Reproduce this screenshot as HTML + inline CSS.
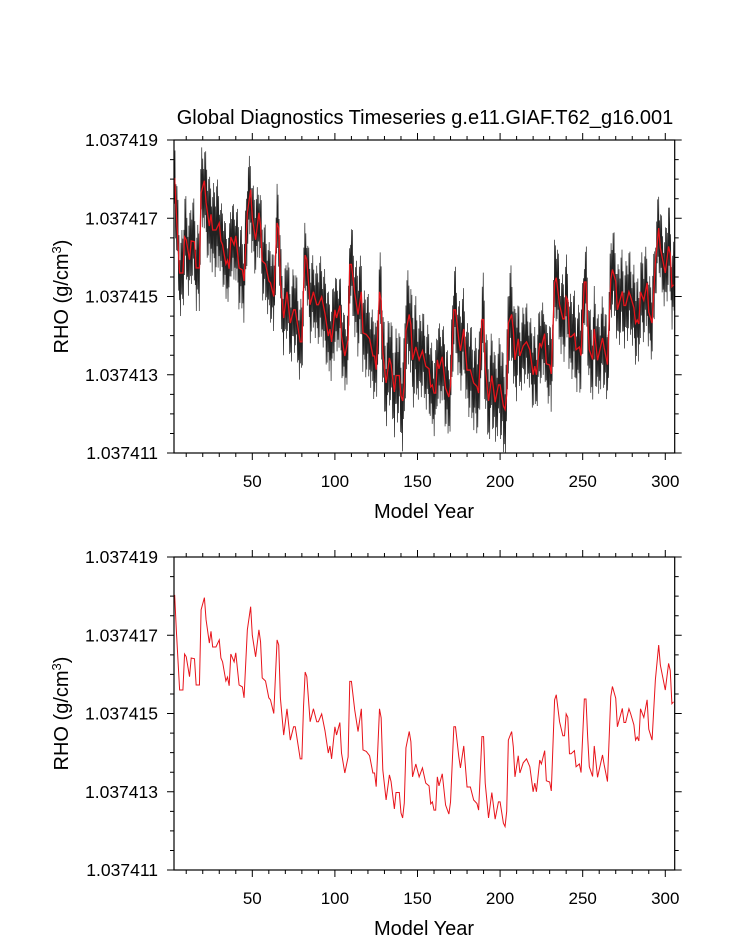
<!DOCTYPE html>
<html><head><meta charset="utf-8">
<style>
html,body{margin:0;padding:0;background:#fff;}
svg{display:block;font-family:"Liberation Sans",Arial,sans-serif;}
</style></head>
<body>
<svg id="chart" width="733" height="945" viewBox="0 0 733 945" xmlns="http://www.w3.org/2000/svg">
<text x="425" y="124" font-size="20" text-anchor="middle">Global Diagnostics Timeseries g.e11.GIAF.T62_g16.001</text>
<g id="p1"></g>
<g id="p2"></g>
</svg>
<script>
// x-axis categories (model years) for annual mean series
const years = [3,4,6,8,9,10,12,13,15,16,18,19,21,22,24,25,26,28,30,31,32,34,35,36,37,39,40,42,44,45,47,49,50,52,54,55,56,58,60,61,63,65,66,67,69,71,73,75,76,79,80,81,82,83,85,87,89,90,92,94,96,97,98,100,101,103,104,106,108,109,110,112,114,116,117,119,121,123,124,125,127,128,129,131,133,134,136,137,139,140,141,142,143,145,146,147,149,151,153,155,157,158,159,160,161,162,163,165,167,169,170,172,173,175,176,178,180,182,184,186,187,189,190,191,193,195,197,199,200,202,203,204,205,207,208,209,211,212,214,216,218,220,221,222,224,225,227,228,230,231,233,234,236,238,239,240,241,242,243,245,246,248,249,251,252,253,254,256,257,259,262,263,265,267,268,270,271,274,275,276,278,279,281,282,283,284,285,287,289,290,292,294,296,297,300,302,303,304,305];
// annual mean RHO, offset from 1.037411 in units of 1e-6 g/cm3
const rhoAnnualMicro = [7.03,6.14,4.6,4.6,5.52,5.45,4.94,5.42,5.4,4.73,4.73,6.65,6.96,6.4,5.8,6.1,5.7,5.7,5.88,5.42,5.32,4.83,4.93,4.71,5.52,5.32,5.55,4.73,4.68,4.4,6.14,6.73,6.0,5.45,6.14,5.83,4.91,4.83,4.4,4.35,4.0,5.88,5.75,4.4,3.45,4.12,3.32,3.66,3.66,2.84,2.84,4.17,5.06,4.94,3.79,4.12,3.79,3.79,3.99,3.56,2.99,3.17,2.84,3.66,3.45,3.77,2.99,2.48,2.89,4.82,4.82,4.09,3.54,4.12,3.07,3.03,2.92,2.48,2.48,2.13,4.12,3.89,2.56,1.79,2.43,2.26,1.56,1.98,1.98,1.46,1.33,1.71,3.12,3.54,3.28,2.38,2.71,2.38,2.61,2.22,2.15,1.69,1.74,1.53,1.53,2.38,2.15,2.46,1.66,1.43,1.74,3.66,3.66,2.9,2.61,3.17,2.12,2.12,1.79,1.7,1.53,3.41,3.41,2.22,1.33,1.98,1.3,1.74,1.74,1.2,1.11,1.5,3.32,3.54,3.15,2.38,2.92,2.48,2.74,2.84,2.64,2.0,2.22,2.0,2.81,2.71,3.05,2.28,2.25,2.02,4.35,4.48,3.79,3.43,3.43,3.99,3.9,2.97,2.97,3.05,2.64,2.71,2.49,4.37,4.37,3.41,2.64,2.39,3.17,2.37,2.94,2.69,2.26,4.43,4.69,4.39,3.66,4.13,3.77,3.77,4.12,4.0,3.71,3.32,3.4,3.3,4.12,3.9,4.35,3.6,3.32,4.86,5.75,5.24,4.6,5.28,5.1,4.25,4.3];
// monthly variability half-spread per decade (1e-6 g/cm3)
const monthlySpreadMicro = [1.1,1.1,1.2,1.0,1.1,1.0,1.0,1.1,1.0,1.1,1.0,1.1,1.1,1.2,1.3,1.1,1.1,1.1,1.2,1.2,1.3,1.0,1.0,1.1,1.1,1.1,1.1,1.1,1.1,1.0,1.1];
const monthlyPattern = [1,-0.6,0.8,-1,0.5,-0.8,0.9,-0.4,1,-0.9,0.6,-0.7,0.3,-1,0.7,-0.5];
const yTickLabels = ["1.037411","1.037413","1.037415","1.037417","1.037419"];
const yTickMicro = [0,2,4,6,8];
const xTickLabels = ["50","100","150","200","250","300"];
const xTickYears = [50,100,150,200,250,300];
const baseRho = 1.037411;

const NS="http://www.w3.org/2000/svg";
const XMIN=2.6, XMAX=305.7, X0=174, X1=674.7;
function xs(yr){return X0+(yr-XMIN)/(XMAX-XMIN)*(X1-X0);}
function mk(tag,attrs,parent){const e=document.createElementNS(NS,tag);for(const k in attrs)e.setAttribute(k,attrs[k]);parent.appendChild(e);return e;}
function interp(yr){
  if(yr<=years[0])return rhoAnnualMicro[0];
  for(let i=1;i<years.length;i++){if(yr<=years[i]){const t=(yr-years[i-1])/(years[i]-years[i-1]);return rhoAnnualMicro[i-1]+t*(rhoAnnualMicro[i]-rhoAnnualMicro[i-1]);}}
  return rhoAnnualMicro[rhoAnnualMicro.length-1];
}
function panel(g,top,bot,withMonthly,xLabelY){
  const ys=m=>bot-(m-0)/8*(bot-top);
  if(withMonthly){
    let d="";let k=0;
    for(let yr=XMIN;yr<=XMAX;yr+=0.3){
      const sp=monthlySpreadMicro[Math.min(30,Math.floor(yr/10))];
      const v=interp(yr)+sp*monthlyPattern[k%monthlyPattern.length];
      d+=(k?"L":"M")+xs(yr).toFixed(2)+" "+ys(Math.max(0,Math.min(8,v))).toFixed(2);k++;
    }
    const bl=mk("path",{d:d,fill:"none",stroke:"#222","stroke-width":"0.7"},g);
    
    
  }
  let d2="";
  years.forEach((yr,i)=>{d2+=(i?"L":"M")+xs(yr).toFixed(2)+" "+ys(rhoAnnualMicro[i]).toFixed(2);});
  const rl=mk("path",{d:d2,fill:"none",stroke:"#e8141b","stroke-width":withMonthly?"1.3":"1"},g);
  
  
  const fr=mk("rect",{x:X0,y:top,width:X1-X0,height:bot-top,fill:"none",stroke:"#000","stroke-width":"1.2"},g);
  
  
  let td="";
  for(let m=0;m<=8;m+=0.5){const y=ys(m);const L=(m%2===0)?7:4;td+=`M${X0} ${y}h${-L}M${X1} ${y}h${L}`;}
  for(let yr=10;yr<=300;yr+=10){const x=xs(yr);const L=(yr%50===0)?7:4;td+=`M${x} ${bot}v${L}M${x} ${top}v${-L}`;}
  const tk=mk("path",{d:td,stroke:"#000","stroke-width":"1",fill:"none"},g);
  
  
  yTickLabels.forEach((lab,i)=>{
    const t=mk("text",{x:158,y:ys(yTickMicro[i])+6,"font-size":"17.5","text-anchor":"end"},g);
    t.textContent=lab;
    
    
  });
  xTickLabels.forEach((lab,i)=>{
    const t=mk("text",{x:xs(xTickYears[i]),y:bot+34,"font-size":"17","text-anchor":"middle"},g);
    t.textContent=lab;
    
    
  });
  const xt=mk("text",{x:424,y:xLabelY,"font-size":"20","text-anchor":"middle"},g);
  xt.textContent="Model Year";
  
  
  const cy=(top+bot)/2;
  const yt=mk("text",{x:0,y:0,"font-size":"20","text-anchor":"middle",transform:`translate(68 ${cy}) rotate(-90)`},g);
  
  
  yt.appendChild(document.createTextNode("RHO (g/cm"));
  const sup=mk("tspan",{"font-size":"13",dy:"-7"},yt);sup.textContent="3";
  const cl=mk("tspan",{dy:"7"},yt);cl.textContent=")";
}
panel(document.getElementById('p1'),140,453,true,518);
panel(document.getElementById('p2'),557,870,false,935);
</script>
</body></html>
